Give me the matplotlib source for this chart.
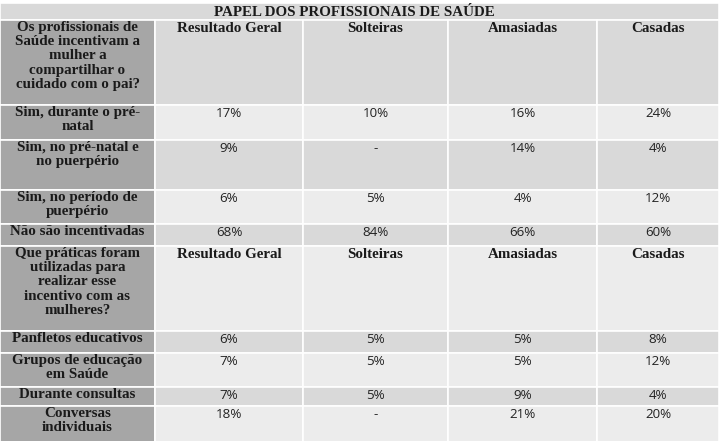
import matplotlib
matplotlib.use("Agg")
import matplotlib.pyplot as plt
from matplotlib.patches import Rectangle

title = "PAPEL DOS PROFISSIONAIS DE SAÚDE"
columns = ["Resultado Geral", "Solteiras", "Amasiadas", "Casadas"]
q1 = "Os profissionais de\nSaúde incentivam a\nmulher a\ncompartilhar o\ncuidado com o pai?"
q1_rows = ["Sim, durante o pré-\nnatal", "Sim, no pré-natal e\nno puerpério", "Sim, no período de\npuerpério", "Não são incentivadas"]
q1_vals = [["17%", "10%", "16%", "24%"], ["9%", "-", "14%", "4%"], ["6%", "5%", "4%", "12%"], ["68%", "84%", "66%", "60%"]]
q2 = "Que práticas foram\nutilizadas para\nrealizar esse\nincentivo com as\nmulheres?"
q2_rows = ["Panfletos educativos", "Grupos de educação\nem Saúde", "Durante consultas", "Conversas\nindividuais"]
q2_vals = [["6%", "5%", "5%", "8%"], ["7%", "5%", "5%", "12%"], ["7%", "5%", "9%", "4%"], ["18%", "-", "21%", "20%"]]

W, H = 719, 441
fig = plt.figure(figsize=(W/100, H/100), dpi=100)
ax = fig.add_axes([0, 0, 1, 1])
ax.set_xlim(0, W); ax.set_ylim(H, 0); ax.axis("off")

xs = [0, 155, 303, 448, 597, 719]
serif = dict(family="Liberation Serif", weight="bold", fontsize=10.8, color="#1a1a1a")
sans = dict(family="Open Sans", fontsize=9.6, color="#222222")
DARK, LIGHT, MID = "#a6a6a6", "#ececec", "#d9d9d9"

def rect(x0, y0, x1, y1, c):
    ax.add_patch(Rectangle((x0, y0), x1-x0, y1-y0, facecolor=c, edgecolor="white", lw=1.2))

rect(0, 3, W, 20, MID)
ax.text(W/2 - 5, 12, title, ha="center", va="center", **serif)

state = {"k": 0}
def shade():
    c = MID if state["k"] % 2 == 0 else LIGHT
    state["k"] += 1
    return c

def block(y0, header, rows, vals, heights, hh):
    y1 = y0 + hh
    c = shade()
    rect(0, y0, xs[1], y1, DARK)
    ax.text(xs[1]/2, y0 + 1, header, ha="center", va="top", linespacing=1.12, **serif)
    for j, col in enumerate(columns):
        rect(xs[j+1], y0, xs[j+2], y1, c)
        ax.text((xs[j+1]+xs[j+2])/2, y0 + 2, col, ha="center", va="top", **serif)
    y = y1
    for lab, v, h in zip(rows, vals, heights):
        c = shade()
        rect(0, y, xs[1], y + h, DARK)
        ax.text(xs[1]/2, y + 1, lab, ha="center", va="top", linespacing=1.12, **serif)
        for j, s in enumerate(v):
            rect(xs[j+1], y, xs[j+2], y + h, c)
            ax.text((xs[j+1]+xs[j+2])/2, y + 2, s, ha="center", va="top", **sans)
        y += h
    return y

y = block(20, q1, q1_rows, q1_vals, [35, 50, 34, 22], 85)
y = block(y, q2, q2_rows, q2_vals, [22, 34, 19, 38], 85)

fig.savefig("out.png", dpi=100)
